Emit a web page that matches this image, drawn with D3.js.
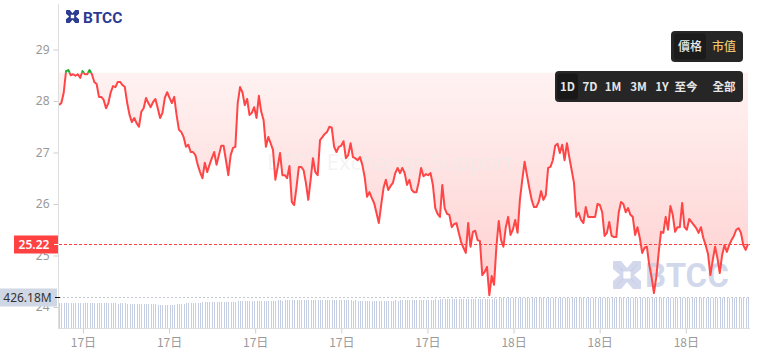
<!DOCTYPE html>
<html><head><meta charset="utf-8">
<script src="https://cdn.jsdelivr.net/npm/d3@7/dist/d3.min.js"></script>
<style>
html,body{margin:0;padding:0;background:#fff;}
svg{display:block;font-family:"Noto Sans CJK TC","Noto Sans",sans-serif;}
</style></head>
<body>
<svg id="chart" width="760" height="360"></svg>
<script>
// ---------- data ----------
const prices = [
27.92,27.96,28.16,28.58,28.60,28.50,28.52,28.49,28.52,28.45,
28.58,28.52,28.52,28.60,28.52,28.37,28.33,28.08,28.08,28.02,
27.86,27.96,28.17,28.29,28.27,28.37,28.37,28.31,28.27,27.96,
27.73,27.59,27.67,27.57,27.50,27.79,27.86,28.06,27.96,27.88,
27.98,28.04,27.86,27.67,27.77,28.06,28.17,28.06,27.96,28.08,
27.73,27.44,27.40,27.30,27.11,27.15,27.01,27.01,26.95,26.76,
26.62,26.50,26.80,26.62,26.76,26.89,27.01,26.76,26.95,27.13,
27.13,26.85,26.56,26.95,27.09,
27.11,27.96,28.27,28.17,27.92,28.04,27.73,27.77,27.88,27.67,
28.10,27.79,27.63,27.11,27.30,27.18,27.05,26.47,26.72,26.99,
26.56,26.56,26.50,26.74,26.04,25.98,26.33,26.72,26.72,26.66,
26.41,26.08,26.47,26.89,26.62,26.56,27.24,27.30,27.36,27.40,
27.50,27.48,27.11,27.01,27.11,27.13,27.22,26.89,26.95,27.18,
26.91,26.89,26.85,26.91,26.76,26.52,26.14,26.23,26.12,26.02,
25.83,25.63,25.98,26.31,26.47,26.27,26.35,26.41,26.60,26.70,
26.60,
26.70,26.60,26.37,26.47,26.27,26.23,26.23,26.43,26.70,26.54,
26.58,26.56,26.60,26.37,25.92,25.81,25.75,26.37,25.92,25.81,
25.79,25.55,25.61,25.63,25.44,25.26,25.15,25.05,25.63,25.17,
25.46,25.48,25.30,25.28,24.62,24.68,24.78,24.23,24.60,24.43,
25.17,25.67,25.30,25.17,25.55,25.75,25.40,25.50,25.69,25.44,
26.08,26.47,26.82,26.56,26.31,26.08,25.94,25.94,26.04,26.25,
26.08,26.17,26.70,26.72,26.85,27.13,27.17,26.99,27.15,26.85,
27.18,26.91,
26.66,26.41,25.75,25.83,25.69,25.63,25.94,25.75,25.75,25.75,
25.75,26.00,25.98,25.84,25.38,25.44,25.65,25.38,25.36,25.36,
25.83,26.04,26.00,25.84,25.92,25.79,25.75,25.40,25.55,25.34,
25.05,25.15,25.17,24.82,24.58,24.27,24.58,25.05,25.46,25.44,
25.75,25.50,25.96,25.79,25.46,25.55,25.55,26.02,25.55,25.50,
25.71,25.65,25.59,25.53,25.44,25.55,25.34,25.20,25.03,24.62,
24.91,25.17,24.95,24.66,25.01,25.20,25.07,25.20,25.30,25.38,
25.50,25.53,25.44,25.20,25.11,25.22
];
const volumes = [
358,360,357,359,361,358,356,359,360,357,
355,353,354,352,355,353,351,354,352,353,
350,352,349,351,350,348,350,349,351,347,
346,348,345,347,344,346,343,345,342,344,
338,335,330,328,326,327,325,328,326,330,
335,340,344,348,352,355,357,360,358,361,
362,364,363,365,366,364,367,368,366,369,
370,372,371,374,373,376,378,377,380,381,
382,380,383,385,384,386,385,387,388,386,
389,390,388,391,392,390,393,394,392,395,
396,394,397,398,396,399,398,400,399,397,
398,400,401,399,400,402,401,400,398,399,
397,396,395,393,392,390,391,389,390,388,
387,389,388,386,388,387,389,388,390,389,
388,390,389,391,390,392,391,393,392,394,
395,396,398,397,399,400,402,401,403,404,
405,404,406,407,406,408,409,408,410,409,
411,412,410,413,412,414,415,414,416,415,
417,418,416,419,418,420,419,421,420,422,
421,423,422,424,423,425,424,426,425,424,
426,425,427,426,424,426,425,427,426,425,
424,426,425,427,426,428,427,426,425,427,
426,428,427,425,426,428,427,429,428,426,
427,425,426,428,427,426,425,427,426,428,
427,426,428,427,425,426,427,428,426,425,
427,426,428,427,426,425,427,428,426,427,
425,426,428,427,426,428,427,425,426,427,
428,426,427,425,426,428,427,426,425,427,
426,428,427,426,425,427,426,428,427,426,
425,427,426,426.18
];
const baselineValue = 28.55;
const lastPrice = 25.22;
const lastVolume = 426.18;
const lastVolumeLabel = "426.18M";
const yTicks = [24, 25, 26, 27, 28, 29];
const startTime = new Date(2024, 0, 17, 8, 10);
const endTime = new Date(2024, 0, 18, 8, 10);
const modeLabels = ["價格", "市值"];
const rangeLabels = ["1D", "7D", "1M", "3M", "1Y", "至今", "全部"];

// ---------- chart ----------
const svg = d3.select("#chart");
const n = prices.length;
const times = prices.map((_, i) => new Date(+startTime + i * (endTime - startTime) / (n - 1)));

const x = d3.scaleTime().domain([startTime, endTime]).range([59, 748]);
const y = d3.scaleLinear().domain([24, 29]).range([307, 49.5]);
const yv = d3.scaleLinear().domain([0, lastVolume]).range([328, 298]);
const yBase = y(baselineValue);

const defs = svg.append("defs");
const grad = defs.append("linearGradient").attr("id", "redFill")
  .attr("gradientUnits", "userSpaceOnUse").attr("x1", 0).attr("x2", 0)
  .attr("y1", yBase).attr("y2", 300);
grad.append("stop").attr("offset", 0).attr("stop-color", "rgb(255,70,70)").attr("stop-opacity", 0.07);
grad.append("stop").attr("offset", 1).attr("stop-color", "rgb(255,70,70)").attr("stop-opacity", 0.26);

defs.append("clipPath").attr("id", "below").append("rect")
  .attr("x", 0).attr("y", yBase).attr("width", 760).attr("height", 360);
defs.append("clipPath").attr("id", "above").append("rect")
  .attr("x", 0).attr("y", 0).attr("width", 760).attr("height", yBase);

// Volume bars
svg.append("g").attr("shape-rendering", "crispEdges")
  .selectAll("rect").data(volumes).join("rect")
  .attr("x", (d, i) => Math.round(x(times[i])))
  .attr("width", 1)
  .attr("y", d => Math.round(yv(d)))
  .attr("height", d => 328 - Math.round(yv(d)))
  .attr("fill", "#c6cee3");

// Area
const area = d3.area().x((d, i) => x(times[i])).y0(yBase).y1(d => y(d));
svg.append("path").datum(prices).attr("d", area)
  .attr("fill", "url(#redFill)").attr("clip-path", "url(#below)");
svg.append("path").datum(prices).attr("d", area)
  .attr("fill", "rgba(30,170,60,0.08)").attr("clip-path", "url(#above)");

// Watermarks
svg.append("text").attr("x", 390).attr("y", 170).attr("text-anchor", "middle")
  .attr("font-family", "'Open Sans',sans-serif").attr("font-size", 22)
  .attr("fill", "rgba(236,236,236,0.6)").text("BTCC Exchange Support");

function logoIcon(g, cx, cy, s, color) {
  // four chevrons forming an X
  const k = s / 14;
  const piece = [[-7,-7],[-3,-7],[0,-3.5],[3,-7],[7,-7],[2.3,-1.8],[-2.3,-1.8]];
  [0, 90, 180, 270].forEach(r => {
    g.append("path")
      .attr("d", d3.line()(piece.map(p => [p[0] * k, p[1] * k])) + "Z")
      .attr("transform", `translate(${cx},${cy}) rotate(${r})`)
      .attr("fill", color);
  });
}
const wm = svg.append("g");
logoIcon(wm, 627, 275, 28, "rgba(196,203,230,0.75)");
wm.append("text").attr("x", 645).attr("y", 287)
  .attr("font-family", "Roboto,sans-serif").attr("font-weight", 700).attr("font-size", 33)
  .attr("fill", "rgba(196,203,230,0.75)").text("BTCC");

// Logo
const lg = svg.append("g");
logoIcon(lg, 72.5, 16.5, 13, "#2b3a8f");
lg.append("text").attr("x", 83).attr("y", 22.5)
  .attr("font-family", "Roboto,sans-serif").attr("font-weight", 700).attr("font-size", 15.5)
  .attr("fill", "#2b3a8f").text("BTCC");

// Lines
const line = d3.line().x((d, i) => x(times[i])).y(d => y(d));
svg.append("path").datum(prices).attr("d", line).attr("fill", "none")
  .attr("stroke", "#ff4545").attr("stroke-width", 2).attr("stroke-linejoin", "round")
  .attr("clip-path", "url(#below)");
svg.append("path").datum(prices).attr("d", line).attr("fill", "none")
  .attr("stroke", "#1eae2e").attr("stroke-width", 2).attr("stroke-linejoin", "round")
  .attr("clip-path", "url(#above)");

// Dashed reference lines
svg.append("line").attr("x1", 59).attr("x2", 750)
  .attr("y1", Math.round(y(lastPrice)) + 0.5).attr("y2", Math.round(y(lastPrice)) + 0.5)
  .attr("stroke", "#ff4040").attr("stroke-dasharray", "3,2");
svg.append("line").attr("x1", 59).attr("x2", 750)
  .attr("y1", Math.round(yv(lastVolume)) - 0.5).attr("y2", Math.round(yv(lastVolume)) - 0.5)
  .attr("stroke", "#c4c8d0").attr("stroke-dasharray", "2,2");

// Y axis
const yAxis = svg.append("g").attr("transform", "translate(58.5,0)")
  .call(d3.axisLeft(y).tickValues(yTicks).tickFormat(d3.format("d")).tickSize(5).tickPadding(4));
yAxis.select(".domain").remove();
yAxis.selectAll(".tick line").attr("stroke", "#cfcfcf");
yAxis.selectAll(".tick text").attr("fill", "#999").attr("font-size", 12)
  .attr("font-family", "'Noto Sans','Open Sans',sans-serif");
svg.append("line").attr("x1", 58.5).attr("x2", 58.5).attr("y1", 4).attr("y2", 328)
  .attr("stroke", "#dedede");

// X axis
const xAxis = svg.append("g").attr("transform", "translate(0,328.5)")
  .call(d3.axisBottom(x).ticks(d3.timeHour.every(3)).tickFormat(d3.timeFormat("%-d日"))
    .tickSize(5).tickPadding(5));
xAxis.select(".domain").remove();
xAxis.selectAll(".tick line").attr("stroke", "#cfcfcf");
xAxis.selectAll(".tick text").attr("fill", "#999").attr("font-size", 12)
  .attr("font-family", "'Noto Sans CJK SC',sans-serif");
svg.append("line").attr("x1", 58).attr("x2", 750).attr("y1", 328.5).attr("y2", 328.5)
  .attr("stroke", "#dedede");

// Price label (overlaps the "25" tick label, as in the reference)
const py = Math.round(y(lastPrice)) + 0.5;
svg.append("rect").attr("x", 14).attr("y", py - 9).attr("width", 44).attr("height", 18)
  .attr("fill", "#ff4141");
svg.append("line").attr("x1", 54).attr("x2", 59).attr("y1", py).attr("y2", py)
  .attr("stroke", "#fff");
svg.append("text").attr("x", 34).attr("y", py + 4.5).attr("text-anchor", "middle")
  .attr("font-family", "'Noto Sans',sans-serif").attr("font-size", 12).attr("font-weight", 600)
  .attr("fill", "#fff").text(lastPrice.toFixed(2));

// Volume label (overlaps the "24" tick label, as in the reference)
const vy = Math.round(yv(lastVolume)) - 0.5;
svg.append("rect").attr("x", 0).attr("y", vy - 9).attr("width", 57).attr("height", 18)
  .attr("fill", "#cfd6e4");
svg.append("line").attr("x1", 55).attr("x2", 60).attr("y1", vy).attr("y2", vy)
  .attr("stroke", "#111");
svg.append("text").attr("x", 27.5).attr("y", vy + 4.5).attr("text-anchor", "middle")
  .attr("font-family", "'Noto Sans',sans-serif").attr("font-size", 12)
  .attr("fill", "#333").text(lastVolumeLabel);

// Buttons
const mb = svg.append("g");
mb.append("rect").attr("x", 671).attr("y", 31).attr("width", 72).attr("height", 31).attr("rx", 4).attr("fill", "#262626");
mb.append("rect").attr("x", 674).attr("y", 33.5).attr("width", 32).attr("height", 26).attr("rx", 3).attr("fill", "#1b1b1b");
const modeX = [690, 724];
mb.selectAll("text").data(modeLabels).join("text")
  .attr("x", (d, i) => modeX[i]).attr("y", 51).attr("text-anchor", "middle")
  .attr("font-size", 12).attr("font-weight", 500)
  .attr("fill", (d, i) => i === 0 ? "#e8e8e8" : "#f0c46a").text(d => d);

const rb = svg.append("g");
rb.append("rect").attr("x", 555).attr("y", 71).attr("width", 188).attr("height", 31).attr("rx", 4).attr("fill", "#262626");
rb.append("rect").attr("x", 557).attr("y", 73.5).attr("width", 21).attr("height", 26).attr("rx", 3).attr("fill", "#181818");
const rangeX = [567.5, 590, 613, 638.5, 662, 686, 724];
rb.selectAll("text").data(rangeLabels).join("text")
  .attr("x", (d, i) => rangeX[i]).attr("y", 91).attr("text-anchor", "middle")
  .attr("font-size", 11.5).attr("font-weight", 600)
  .attr("fill", "#e6e6e6").text(d => d);
</script>
</body></html>
